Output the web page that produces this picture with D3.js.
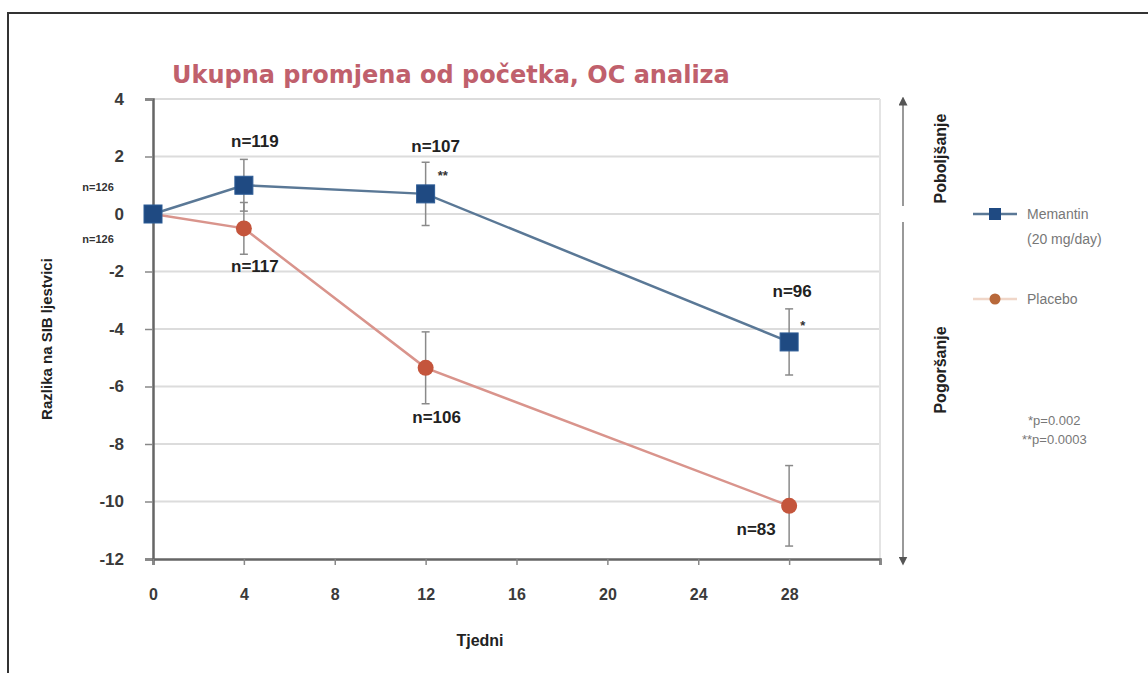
<!DOCTYPE html>
<html>
<head>
<meta charset="utf-8">
<script src="https://cdn.jsdelivr.net/npm/d3@7"></script>
<style>
  body { margin: 0; background: #fff; }
  text { font-family: "Liberation Sans", Arial, sans-serif; }
</style>
</head>
<body>
<svg id="chart" width="1148" height="673"></svg>
<script>
// data
const weeks = [0, 4, 12, 28];
const memantin = [0, 1.0, 0.7, -4.45];
const memantinErr = [0, 0.9, 1.1, 1.15];
const placebo = [0, -0.5, -5.35, -10.15];
const placeboErr = [0, 0.9, 1.25, 1.4];
const memantinN = ["n=126", "n=119", "n=107", "n=96"];
const placeboN = ["n=126", "n=117", "n=106", "n=83"];
const xTicks = [0, 4, 8, 12, 16, 20, 24, 28];
const yTicks = [4, 2, 0, -2, -4, -6, -8, -10, -12];

let svg = d3.select('#chart');

// outer frame of the slide
svg.append('rect')
  .attr('x', 8).attr('y', 13)
  .attr('width', 1160).attr('height', 680)
  .attr('fill', 'none').attr('stroke', '#333').attr('stroke-width', 2);

let plotLeft = 153, plotRight = 880, plotTop = 99, plotBottom = 559;

let x = d3.scaleLinear().domain([0, 32]).range([plotLeft, plotRight]);
let y = d3.scaleLinear().domain([-12, 4]).range([plotBottom, plotTop]);

// title
svg.append('text')
  .attr('x', 172).attr('y', 83)
  .attr('font-size', 24).attr('font-weight', 'bold')
  .style('font-family', '"DejaVu Sans", Verdana, sans-serif')
  .attr('fill', '#c0606c')
  .text('Ukupna promjena od početka, OC analiza');

// grid lines
svg.append('g')
  .selectAll('line')
  .data(yTicks.filter(d => d > -12))
  .enter().append('line')
  .attr('x1', plotLeft).attr('x2', plotRight)
  .attr('y1', d => y(d)).attr('y2', d => y(d))
  .attr('stroke', '#dcdcdc').attr('stroke-width', 2);

// right border of the plot area
svg.append('line')
  .attr('x1', plotRight).attr('x2', plotRight)
  .attr('y1', plotTop).attr('y2', plotBottom)
  .attr('stroke', '#e4e4e4').attr('stroke-width', 2);

// axes
let yAxis = svg.append('g')
  .attr('transform', `translate(${plotLeft},0)`)
  .call(d3.axisLeft(y).tickValues(yTicks).tickSize(8).tickFormat(d => String(d)));
let xAxis = svg.append('g')
  .attr('transform', `translate(0,${plotBottom})`)
  .call(d3.axisBottom(x).tickValues(xTicks.concat([32])).tickSize(6)
    .tickFormat(d => d === 32 ? '' : d));

[yAxis, xAxis].forEach(a => {
  a.select('.domain').attr('stroke', '#666').attr('stroke-width', 2.5);
  a.selectAll('.tick line').attr('stroke', '#888').attr('stroke-width', 1.5);
  a.selectAll('text').attr('font-size', 16).attr('fill', '#3a3a3a').attr('font-weight', 'bold');
});
yAxis.selectAll('text').attr('x', -29).attr('font-size', 17);
xAxis.selectAll('text').attr('y', 30);

// axis titles
svg.append('text')
  .attr('transform', `translate(52,${(plotTop + plotBottom) / 2 + 10}) rotate(-90)`)
  .attr('text-anchor', 'middle')
  .attr('font-size', 15).attr('font-weight', 'bold').attr('fill', '#222')
  .text('Razlika na SIB ljestvici');

svg.append('text')
  .attr('x', 480).attr('y', 646)
  .attr('text-anchor', 'middle')
  .attr('font-size', 16).attr('font-weight', 'bold').attr('fill', '#222')
  .text('Tjedni');

let memData = weeks.map((w, i) => ({ w: w, v: memantin[i], e: memantinErr[i] }));
let plaData = weeks.map((w, i) => ({ w: w, v: placebo[i], e: placeboErr[i] }));

let line = d3.line().x(d => x(d.w)).y(d => y(d.v));

// error bars
function errorBars(data, cls) {
  let g = svg.append('g').attr('class', cls);
  let bars = data.filter(d => d.e > 0);
  g.selectAll('line.v').data(bars).enter().append('line')
    .attr('x1', d => x(d.w)).attr('x2', d => x(d.w))
    .attr('y1', d => y(d.v + d.e)).attr('y2', d => y(d.v - d.e))
    .attr('stroke', '#8a8a8a').attr('stroke-width', 1.5);
  g.selectAll('line.t').data(bars).enter().append('line')
    .attr('x1', d => x(d.w) - 4).attr('x2', d => x(d.w) + 4)
    .attr('y1', d => y(d.v + d.e)).attr('y2', d => y(d.v + d.e))
    .attr('stroke', '#8a8a8a').attr('stroke-width', 1.5);
  g.selectAll('line.b').data(bars).enter().append('line')
    .attr('x1', d => x(d.w) - 4).attr('x2', d => x(d.w) + 4)
    .attr('y1', d => y(d.v - d.e)).attr('y2', d => y(d.v - d.e))
    .attr('stroke', '#8a8a8a').attr('stroke-width', 1.5);
}
errorBars(plaData, 'err-placebo');
errorBars(memData, 'err-memantin');

// lines
svg.append('path').datum(plaData)
  .attr('d', line).attr('fill', 'none')
  .attr('stroke', '#d9948c').attr('stroke-width', 2.5);
svg.append('path').datum(memData)
  .attr('d', line).attr('fill', 'none')
  .attr('stroke', '#5a7896').attr('stroke-width', 2.5);

// markers
svg.selectAll('circle.pla').data(plaData.slice(1)).enter().append('circle')
  .attr('class', 'pla')
  .attr('cx', d => x(d.w)).attr('cy', d => y(d.v)).attr('r', 8)
  .attr('fill', '#c4553c');
svg.selectAll('rect.mem').data(memData).enter().append('rect')
  .attr('class', 'mem')
  .attr('x', d => x(d.w) - 9).attr('y', d => y(d.v) - 9)
  .attr('width', 18).attr('height', 18)
  .attr('fill', '#1f4a82').attr('stroke', '#2d5c96').attr('stroke-width', 1);

// n labels
let nLabels = [
  { t: memantinN[1], w: 4, v: memantin[1], dx: 11, dy: -38 },
  { t: memantinN[2], w: 12, v: memantin[2], dx: 10, dy: -42 },
  { t: memantinN[3], w: 28, v: memantin[3], dx: 3, dy: -45 },
  { t: placeboN[1], w: 4, v: placebo[1], dx: 11, dy: 44 },
  { t: placeboN[2], w: 12, v: placebo[2], dx: 11, dy: 55 },
  { t: placeboN[3], w: 28, v: placebo[3], dx: -33, dy: 29 }
];
svg.selectAll('text.n').data(nLabels).enter().append('text')
  .attr('class', 'n')
  .attr('x', d => x(d.w) + d.dx).attr('y', d => y(d.v) + d.dy)
  .attr('text-anchor', 'middle')
  .attr('font-size', 17).attr('font-weight', 'bold').attr('fill', '#222')
  .text(d => d.t);

// baseline n labels (small, left of axis)
svg.append('text').attr('x', 98).attr('y', y(0) - 23)
  .attr('text-anchor', 'middle').attr('font-size', 11).attr('font-weight', 'bold')
  .attr('fill', '#333').text(memantinN[0]);
svg.append('text').attr('x', 98).attr('y', y(0) + 29)
  .attr('text-anchor', 'middle').attr('font-size', 11).attr('font-weight', 'bold')
  .attr('fill', '#333').text(placeboN[0]);

// significance stars
svg.append('text').attr('x', x(12) + 12).attr('y', y(memantin[2]) - 14)
  .attr('font-size', 13).attr('font-weight', 'bold').attr('fill', '#333').text('**');
svg.append('text').attr('x', x(28) + 11).attr('y', y(memantin[3]) - 12)
  .attr('font-size', 13).attr('font-weight', 'bold').attr('fill', '#333').text('*');

// right-hand arrows
let defs = svg.append('defs');
defs.append('marker').attr('id', 'arr')
  .attr('viewBox', '0 0 10 10').attr('refX', 5).attr('refY', 5)
  .attr('markerWidth', 6).attr('markerHeight', 6).attr('orient', 'auto-start-reverse')
  .append('path').attr('d', 'M0,0 L10,5 L0,10 z').attr('fill', '#555');

svg.append('line').attr('x1', 903).attr('x2', 903)
  .attr('y1', y(0) - 8).attr('y2', plotTop + 2)
  .attr('stroke', '#777').attr('stroke-width', 1.5)
  .attr('marker-end', 'url(#arr)');
svg.append('line').attr('x1', 903).attr('x2', 903)
  .attr('y1', y(0) + 8).attr('y2', plotBottom + 2)
  .attr('stroke', '#777').attr('stroke-width', 1.5)
  .attr('marker-end', 'url(#arr)');

svg.append('text')
  .attr('transform', `translate(946,${(plotTop + y(0)) / 2 + 2}) rotate(-90)`)
  .attr('text-anchor', 'middle')
  .attr('font-size', 16).attr('font-weight', 'bold').attr('fill', '#222')
  .text('Poboljšanje');
svg.append('text')
  .attr('transform', `translate(946,370) rotate(-90)`)
  .attr('text-anchor', 'middle')
  .attr('font-size', 16).attr('font-weight', 'bold').attr('fill', '#222')
  .text('Pogoršanje');

// legend
let legend = svg.append('g').attr('transform', 'translate(973,0)');
legend.append('line').attr('x1', 0).attr('x2', 44).attr('y1', 214).attr('y2', 214)
  .attr('stroke', '#5a7896').attr('stroke-width', 2.5);
legend.append('rect').attr('x', 16).attr('y', 208).attr('width', 12).attr('height', 12)
  .attr('fill', '#1f4a82');
legend.append('text').attr('x', 54).attr('y', 219)
  .attr('font-size', 14).attr('fill', '#777').text('Memantin');
legend.append('text').attr('x', 54).attr('y', 244)
  .attr('font-size', 14).attr('fill', '#777').text('(20 mg/day)');

legend.append('line').attr('x1', 0).attr('x2', 44).attr('y1', 299).attr('y2', 299)
  .attr('stroke', '#f0d6c8').attr('stroke-width', 2.5);
legend.append('circle').attr('cx', 22).attr('cy', 299).attr('r', 5.5)
  .attr('fill', '#b8683a');
legend.append('text').attr('x', 54).attr('y', 304)
  .attr('font-size', 14).attr('fill', '#777').text('Placebo');

svg.append('text').attr('x', 1028).attr('y', 425)
  .attr('font-size', 13).attr('fill', '#777').text('*p=0.002');
svg.append('text').attr('x', 1022).attr('y', 444)
  .attr('font-size', 13).attr('fill', '#777').text('**p=0.0003');
</script>
</body>
</html>
